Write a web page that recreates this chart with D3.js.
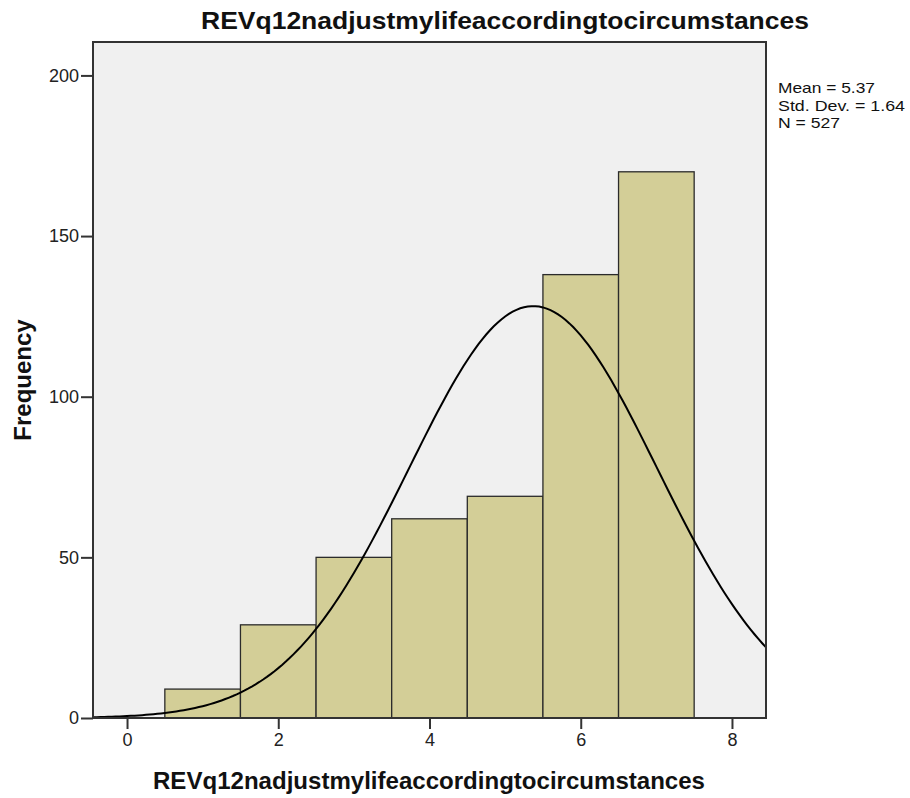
<!DOCTYPE html>
<html>
<head>
<meta charset="utf-8">
<script src="https://cdn.jsdelivr.net/npm/d3@7"></script>
<style>
  body { margin: 0; background: #fff; }
  text { font-family: "Liberation Sans", Arial, sans-serif; }
</style>
</head>
<body>
<svg id="chart" width="910" height="798"></svg>
<script>
// histogram bins (bin centres) and frequencies
const binCenters = [1, 2, 3, 4, 5, 6, 7];
const frequencies = [9, 29, 50, 62, 69, 138, 170];
const xTicks = [0, 2, 4, 6, 8];
const yTicks = [0, 50, 100, 150, 200];
const stats = { mean: 5.37, sd: 1.64, n: 527 };
const varName = "REVq12nadjustmylifeaccordingtocircumstances";

const svg = d3.select("#chart");
const margin = { left: 93, top: 42, right: 144, bottom: 80 };
const width = 910 - margin.left - margin.right;
const height = 798 - margin.top - margin.bottom;

const x = d3.scaleLinear().domain([-0.45, 8.45]).range([0, width]);
const y = d3.scaleLinear().domain([0, 210.4]).range([height, 0]);

const g = svg.append("g").attr("transform", `translate(${margin.left},${margin.top})`);

g.append("rect").attr("width", width).attr("height", height).attr("fill", "#f0f0f0");

// bars
g.selectAll(".bar").data(binCenters).enter().append("rect")
  .attr("x", d => x(d - 0.5))
  .attr("y", (d, i) => y(frequencies[i]))
  .attr("width", d => x(d + 0.5) - x(d - 0.5))
  .attr("height", (d, i) => y(0) - y(frequencies[i]))
  .attr("fill", "#d3ce97")
  .attr("stroke", "#2b2b2b")
  .attr("stroke-width", 1.3);

// fitted normal curve from mean / sd / N (bin width 1)
const pdf = v => stats.n / (stats.sd * Math.sqrt(2 * Math.PI)) *
  Math.exp(-0.5 * Math.pow((v - stats.mean) / stats.sd, 2));
const curvePts = d3.range(-0.45, 8.451, 0.05);
g.append("path").datum(curvePts)
  .attr("fill", "none").attr("stroke", "#000").attr("stroke-width", 2)
  .attr("d", d3.line().x(d => x(d)).y(d => y(pdf(d))));

// frame
g.append("rect").attr("width", width).attr("height", height)
  .attr("fill", "none").attr("stroke", "#333").attr("stroke-width", 2);

// axes
const xAxis = g.append("g").attr("transform", `translate(0,${height})`)
  .call(d3.axisBottom(x).tickValues(xTicks).tickSize(11).tickPadding(4).tickFormat(d3.format("d")));
const yAxis = g.append("g")
  .call(d3.axisLeft(y).tickValues(yTicks).tickSize(12).tickPadding(2).tickFormat(d3.format("d")));
[xAxis, yAxis].forEach(a => {
  a.select(".domain").remove();
  a.selectAll("line").attr("stroke", "#333").attr("stroke-width", 2);
  a.selectAll("text").attr("fill", "#222").style("font-size", "18px")
    .style("font-family", "'Liberation Sans', Arial, sans-serif");
});

// titles
svg.append("text").attr("x", 201).attr("y", 29)
  .attr("textLength", 608).attr("lengthAdjust", "spacingAndGlyphs")
  .style("font-size", "24px").style("font-weight", "bold").attr("fill", "#111")
  .text(varName);
svg.append("text").attr("x", 153).attr("y", 789)
  .attr("textLength", 552).attr("lengthAdjust", "spacingAndGlyphs")
  .style("font-size", "24px").style("font-weight", "bold").attr("fill", "#111")
  .text(varName);
svg.append("text").attr("transform", `translate(31,${margin.top + height / 2}) rotate(-90)`)
  .attr("text-anchor", "middle")
  .style("font-size", "24px").style("font-weight", "bold").attr("fill", "#111")
  .text("Frequency");

// stats box
const statLines = [`Mean = ${stats.mean}`, `Std. Dev. = ${stats.sd}`, `N = ${stats.n}`];
const statWidths = [97, 127, 62];
svg.selectAll(".stat").data(statLines).enter().append("text")
  .attr("x", 778).attr("y", (d, i) => 93 + i * 17.5)
  .attr("textLength", (d, i) => statWidths[i]).attr("lengthAdjust", "spacingAndGlyphs")
  .style("font-size", "15px").attr("fill", "#111")
  .text(d => d);
</script>
</body>
</html>
